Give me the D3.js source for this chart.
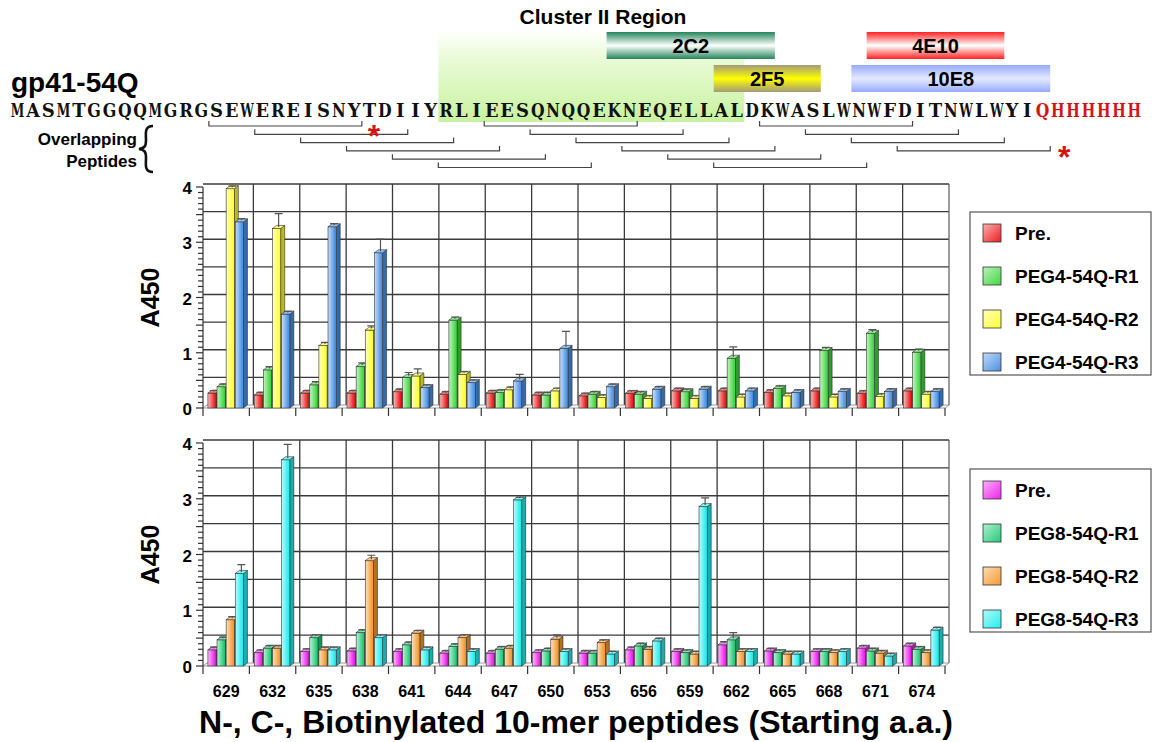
<!DOCTYPE html>
<html>
<head>
<meta charset="utf-8">
<title>gp41-54Q peptide ELISA</title>
<style>
  body { margin: 0; background: #fff; }
  text { font-family: "Liberation Sans", Arial, sans-serif; font-weight: bold; }
</style>
</head>
<body>
<script src="https://cdn.jsdelivr.net/npm/d3@7"></script>
<script>
// peptide start residues (x categories)
var peptides = ['629', '632', '635', '638', '641', '644', '647', '650', '653', '656', '659', '662', '665', '668', '671', '674'];

// PEG4 immunisation, A450
var peg4Names = ['Pre.', 'PEG4-54Q-R1', 'PEG4-54Q-R2', 'PEG4-54Q-R3'];
var peg4Pre = [0.27, 0.235, 0.27, 0.27, 0.295, 0.25, 0.27, 0.235, 0.22, 0.265, 0.31, 0.31, 0.28, 0.31, 0.265, 0.31];
var peg4R1  = [0.385, 0.69, 0.42, 0.75, 0.555, 1.59, 0.28, 0.235, 0.25, 0.25, 0.295, 0.90, 0.355, 1.04, 1.35, 1.01];
var peg4R2  = [3.97, 3.25, 1.13, 1.41, 0.58, 0.61, 0.33, 0.31, 0.19, 0.175, 0.175, 0.20, 0.22, 0.20, 0.21, 0.25];
var peg4R3  = [3.37, 1.70, 3.28, 2.81, 0.37, 0.46, 0.49, 1.08, 0.385, 0.34, 0.34, 0.31, 0.28, 0.30, 0.30, 0.30];
var peg4PreErr = [0.02, 0.02, 0.02, 0.02, 0.02, 0.02, 0.02, 0.02, 0.02, 0.02, 0.02, 0.02, 0.02, 0.02, 0.02, 0.02];
var peg4R1Err  = [0.02, 0.03, 0.03, 0.04, 0.06, 0.03, 0.02, 0.02, 0.02, 0.02, 0.02, 0.18, 0.02, 0.03, 0.04, 0.03];
var peg4R2Err  = [0.02, 0.24, 0.03, 0.05, 0.10, 0.02, 0.02, 0.02, 0.02, 0.02, 0.02, 0.02, 0.02, 0.02, 0.02, 0.02];
var peg4R3Err  = [0.03, 0.02, 0.03, 0.22, 0.02, 0.02, 0.09, 0.28, 0.02, 0.02, 0.02, 0.02, 0.02, 0.02, 0.02, 0.02];

// PEG8 immunisation, A450
var peg8Names = ['Pre.', 'PEG8-54Q-R1', 'PEG8-54Q-R2', 'PEG8-54Q-R3'];
var peg8Pre = [0.29, 0.24, 0.26, 0.27, 0.26, 0.23, 0.23, 0.24, 0.23, 0.29, 0.26, 0.38, 0.27, 0.26, 0.32, 0.36];
var peg8R1  = [0.47, 0.32, 0.51, 0.60, 0.38, 0.35, 0.30, 0.27, 0.23, 0.36, 0.24, 0.47, 0.24, 0.26, 0.27, 0.30];
var peg8R2  = [0.83, 0.32, 0.29, 1.89, 0.59, 0.51, 0.32, 0.48, 0.42, 0.30, 0.215, 0.26, 0.215, 0.24, 0.23, 0.24];
var peg8R3  = [1.66, 3.70, 0.29, 0.51, 0.29, 0.26, 2.98, 0.26, 0.215, 0.45, 2.86, 0.26, 0.215, 0.26, 0.18, 0.645];
var peg8PreErr = [0.02, 0.02, 0.02, 0.02, 0.02, 0.02, 0.02, 0.02, 0.02, 0.02, 0.02, 0.03, 0.02, 0.02, 0.02, 0.02];
var peg8R1Err  = [0.02, 0.02, 0.02, 0.02, 0.02, 0.02, 0.02, 0.02, 0.02, 0.02, 0.02, 0.10, 0.02, 0.02, 0.02, 0.02];
var peg8R2Err  = [0.03, 0.02, 0.02, 0.07, 0.02, 0.02, 0.02, 0.05, 0.02, 0.02, 0.02, 0.02, 0.02, 0.02, 0.02, 0.02];
var peg8R3Err  = [0.13, 0.25, 0.02, 0.02, 0.02, 0.02, 0.02, 0.02, 0.02, 0.02, 0.13, 0.02, 0.02, 0.02, 0.02, 0.02];

var yTicks = [0, 1, 2, 3, 4];

// gp41-54Q construct sequence, his tag shown in red
var seqMain = 'MASMTGGQQMGRGSEWEREISNYTDIIYRLIEESQNQQEKNEQELLALDKWASLWNWFDITNWLWYI';
var seqTag = 'QHHHHHH';
var firstResidue = 616;   // gp41 numbering of sequence index 0
var peptideLength = 10;

// epitopes as sequence index ranges [start, end)
var epitopeNames = ['2C2', '4E10', '2F5', '10E8'];
var epitopeStart = [39, 56, 46, 55];
var epitopeEnd = [50, 65, 53, 68];
var clusterRange = [28, 48];

var W = 1156, H = 742;
var svg = d3.select('body').append('svg')
    .attr('width', W)
    .attr('height', H);
var defs = svg.append('defs');

function grad(id, x2, y2, stops) {
    var g = defs.append('linearGradient').attr('id', id)
        .attr('x1', 0).attr('y1', 0).attr('x2', x2).attr('y2', y2);
    stops.forEach(function (s) {
        g.append('stop').attr('offset', s[0]).attr('stop-color', s[1]);
    });
}

// ---------- sequence header ----------
var fullSeq = seqMain + seqTag;
var res = d3.scaleLinear().domain([0, fullSeq.length]).range([10, 1142]);
var step = res(1) - res(0);

grad('cluster', 0, 1, [[0, '#ffffff'], [0.3, '#eafbd8'], [1, '#c8f2a0']]);
svg.append('rect')
    .attr('x', res(clusterRange[0])).attr('y', 30)
    .attr('width', res(clusterRange[1]) - res(clusterRange[0])).attr('height', 92)
    .attr('fill', 'url(#cluster)');

svg.append('text')
    .attr('x', 603).attr('y', 24)
    .attr('text-anchor', 'middle')
    .style('font-size', '21px')
    .text('Cluster II Region');

var epiColors = [
    ['#23845a', '#ffffff', '#23845a'],
    ['#ff2222', '#ffffff', '#ff2222'],
    ['#a39a78', '#ffff00', '#a39a78'],
    ['#97abff', '#e4e9ff', '#97abff']
];
var epiRow = [0, 0, 1, 1];
epitopeNames.forEach(function (name, i) {
    grad('epi' + i, 0, 1, [[0, epiColors[i][0]], [0.5, epiColors[i][1]], [1, epiColors[i][2]]]);
    var x0 = res(epitopeStart[i]), x1 = res(epitopeEnd[i]);
    var y0 = epiRow[i] === 0 ? 32 : 65;
    svg.append('rect')
        .attr('x', x0).attr('y', y0)
        .attr('width', x1 - x0).attr('height', 27)
        .attr('fill', 'url(#epi' + i + ')');
    svg.append('text')
        .attr('x', (x0 + x1) / 2).attr('y', y0 + 21)
        .attr('text-anchor', 'middle')
        .style('font-size', '20px')
        .text(name);
});

svg.append('text')
    .attr('x', 11).attr('y', 92)
    .style('font-size', '28px')
    .text('gp41-54Q');

// one glyph per residue, squeezed into a fixed cell so it reads like a typewriter face
var cell = 13.6;
var seqCells = svg.append('g').selectAll('g')
    .data(fullSeq.split(''))
    .enter().append('g')
    .attr('transform', function (d, i) { return 'translate(' + (res(i) + step / 2) + ',117)'; });
seqCells.append('text')
    .attr('text-anchor', 'middle')
    .style('font-family', '"DejaVu Serif", "Liberation Serif", serif')
    .style('font-weight', 'bold')
    .style('font-size', '18px')
    .attr('fill', function (d, i) { return i >= seqMain.length ? '#d41414' : '#111'; })
    .text(function (d) { return d; })
    .each(function () {
        var w = this.getComputedTextLength();
        if (w > cell) d3.select(this).attr('transform', 'scale(' + (cell / w) + ',1)');
    });

svg.append('text').attr('x', 137).attr('y', 145)
    .attr('text-anchor', 'end').style('font-size', '17px').text('Overlapping');
svg.append('text').attr('x', 137).attr('y', 167)
    .attr('text-anchor', 'end').style('font-size', '17px').text('Peptides');
svg.append('path')
    .attr('d', 'M153,126 C144,126 146,134 146,140 C146,146 145,148 139,149 C145,150 146,152 146,158 C146,164 144,172 153,172')
    .attr('fill', 'none').attr('stroke', '#111').attr('stroke-width', 2.6);

var brackets = svg.append('g').attr('stroke', '#444').attr('stroke-width', 1.2).attr('fill', 'none');
peptides.forEach(function (p, i) {
    var s = +p - firstResidue;
    var x0 = res(s), x1 = res(s + peptideLength);
    var y = 126 + (i % 6) * 8.3;
    brackets.append('path')
        .attr('d', 'M' + x0 + ',' + (y - 5) + 'V' + y + 'H' + x1 + 'V' + (y - 5));
});

svg.append('text').attr('x', 374).attr('y', 147)
    .attr('text-anchor', 'middle').attr('fill', '#d41414')
    .style('font-size', '32px').text('*');
var lastStart = +peptides[peptides.length - 1] - firstResidue;
svg.append('text').attr('x', res(lastStart + peptideLength) + 14).attr('y', 168)
    .attr('text-anchor', 'middle').attr('fill', '#d41414')
    .style('font-size', '32px').text('*');

// ---------- bar panels ----------
var X0 = 203, X1 = 945, DX = 4, DY = 3;
var x = d3.scaleBand().domain(peptides).range([X0, X1]);
var xs = d3.scaleBand().domain([0, 1, 2, 3]).range([4, x.bandwidth() - 5]).padding(0.1);

function drawPanel(cfg) {
    var y = d3.scaleLinear().domain([0, 4]).range([cfg.base, cfg.top]);
    var g = svg.append('g');

    cfg.colors.forEach(function (c, k) {
        var light = d3.interpolateRgb('#ffffff', c)(0.3);
        grad(cfg.id + 'f' + k, 1, 0, [[0, light], [0.85, c], [1, c]]);
        grad(cfg.id + 'l' + k, 1, 1, [[0, d3.interpolateRgb('#ffffff', c)(0.35)], [1, c]]);
    });

    // back wall grid
    var grid = g.append('g').attr('stroke', '#3a3a3a').attr('stroke-width', 1.3);
    d3.range(1, 9).forEach(function (t) {
        var yy = y(t / 2) - DY;
        grid.append('line').attr('x1', X0).attr('x2', X1 + DX).attr('y1', yy).attr('y2', yy);
    });
    peptides.forEach(function (p, i) {
        var xx = x(p) + x.bandwidth() + DX;
        grid.append('line').attr('x1', xx).attr('x2', xx)
            .attr('y1', y(4) - DY).attr('y2', y(0) - DY)
            .attr('stroke', i === peptides.length - 1 ? '#666' : '#3a3a3a');
    });

    // floor
    g.append('path')
        .attr('d', 'M' + X0 + ',' + y(0) + 'L' + X1 + ',' + y(0) + 'L' + (X1 + DX) + ',' + (y(0) - DY) +
            'L' + (X0 + DX) + ',' + (y(0) - DY) + 'Z')
        .attr('fill', '#fafafa').attr('stroke', '#888').attr('stroke-width', 0.8);

    // bars
    cfg.series.forEach(function (vals, k) {
        var side = d3.color(cfg.colors[k]).darker(0.9);
        var topc = d3.interpolateRgb('#ffffff', cfg.colors[k])(0.55);
        var bw = xs.bandwidth();
        vals.forEach(function (v, i) {
            var bx = x(peptides[i]) + xs(k);
            var yt = y(v), yb = y(0);
            var bar = g.append('g').attr('stroke', '#333').attr('stroke-width', 0.6);
            bar.append('path')
                .attr('d', 'M' + (bx + bw) + ',' + yt + 'L' + (bx + bw + DX) + ',' + (yt - DY) +
                    'L' + (bx + bw + DX) + ',' + (yb - DY) + 'L' + (bx + bw) + ',' + yb + 'Z')
                .attr('fill', side);
            bar.append('rect')
                .attr('x', bx).attr('y', yt)
                .attr('width', bw).attr('height', yb - yt)
                .attr('fill', 'url(#' + cfg.id + 'f' + k + ')');
            bar.append('path')
                .attr('d', 'M' + bx + ',' + yt + 'L' + (bx + DX) + ',' + (yt - DY) + 'L' + (bx + bw + DX) + ',' + (yt - DY) +
                    'L' + (bx + bw) + ',' + yt + 'Z')
                .attr('fill', topc);
            var e = cfg.errors[k][i];
            if (e > 0) {
                var cx = bx + bw / 2 + DX / 2, ye = y(v + e) - DY / 2;
                g.append('path')
                    .attr('d', 'M' + cx + ',' + (yt - DY / 2) + 'V' + ye + 'M' + (cx - 4) + ',' + ye + 'H' + (cx + 4))
                    .attr('stroke', '#555').attr('stroke-width', 1.2).attr('fill', 'none');
            }
        });
    });

    // y axis
    var ax = g.append('g').attr('stroke', '#333').attr('stroke-width', 1.2);
    ax.append('line').attr('x1', X0).attr('x2', X0).attr('y1', y(4)).attr('y2', y(0));
    d3.range(0, 41).forEach(function (t) {
        var yy = y(t / 10);
        ax.append('line').attr('x1', X0 - (t % 5 === 0 ? 7 : 5)).attr('x2', X0).attr('y1', yy).attr('y2', yy);
    });
    // x ticks
    d3.range(0, peptides.length + 1).forEach(function (i) {
        var xx = X0 + i * x.bandwidth();
        ax.append('line').attr('x1', xx).attr('x2', xx).attr('y1', y(0)).attr('y2', y(0) + 8);
    });

    g.append('g').selectAll('text')
        .data(yTicks)
        .enter().append('text')
        .attr('x', 192).attr('y', function (d) { return y(d) + 7; })
        .attr('text-anchor', 'end')
        .style('font-size', '17px')
        .text(function (d) { return d; });

    g.append('text')
        .attr('transform', 'translate(159,' + ((cfg.top + cfg.base) / 2) + ') rotate(-90)')
        .attr('text-anchor', 'middle')
        .style('font-size', '25px')
        .text('A450');

    // legend
    var lg = g.append('g');
    lg.append('rect')
        .attr('x', 970).attr('y', cfg.legendTop)
        .attr('width', 181).attr('height', 163)
        .attr('fill', '#fff').attr('stroke', '#555').attr('stroke-width', 1.2);
    cfg.names.forEach(function (n, k) {
        var cy = cfg.legendTop + 21 + k * 43;
        lg.append('rect')
            .attr('x', 983).attr('y', cy - 9)
            .attr('width', 18).attr('height', 18)
            .attr('fill', 'url(#' + cfg.id + 'l' + k + ')')
            .attr('stroke', '#333').attr('stroke-width', 0.8);
        lg.append('text')
            .attr('x', 1015).attr('y', cy + 7)
            .style('font-size', '19px')
            .text(n);
    });
}

drawPanel({
    id: 'p4', top: 187, base: 408, legendTop: 212,
    names: peg4Names,
    series: [peg4Pre, peg4R1, peg4R2, peg4R3],
    errors: [peg4PreErr, peg4R1Err, peg4R2Err, peg4R3Err],
    colors: ['#ee1c1c', '#40d840', '#ffff33', '#4a92e6']
});

drawPanel({
    id: 'p8', top: 443, base: 666, legendTop: 469,
    names: peg8Names,
    series: [peg8Pre, peg8R1, peg8R2, peg8R3],
    errors: [peg8PreErr, peg8R1Err, peg8R2Err, peg8R3Err],
    colors: ['#ee22ee', '#22cc77', '#f59a30', '#22eeee']
});

// category labels and x title
svg.append('g').selectAll('text')
    .data(peptides)
    .enter().append('text')
    .attr('x', function (d) { return x(d) + x.bandwidth() / 2; })
    .attr('y', 697)
    .attr('text-anchor', 'middle')
    .style('font-size', '16px')
    .text(function (d) { return d; });

svg.append('text')
    .attr('x', 576).attr('y', 733)
    .attr('text-anchor', 'middle')
    .style('font-size', '32px')
    .text('N-, C-, Biotinylated 10-mer peptides (Starting a.a.)');
</script>
</body>
</html>
